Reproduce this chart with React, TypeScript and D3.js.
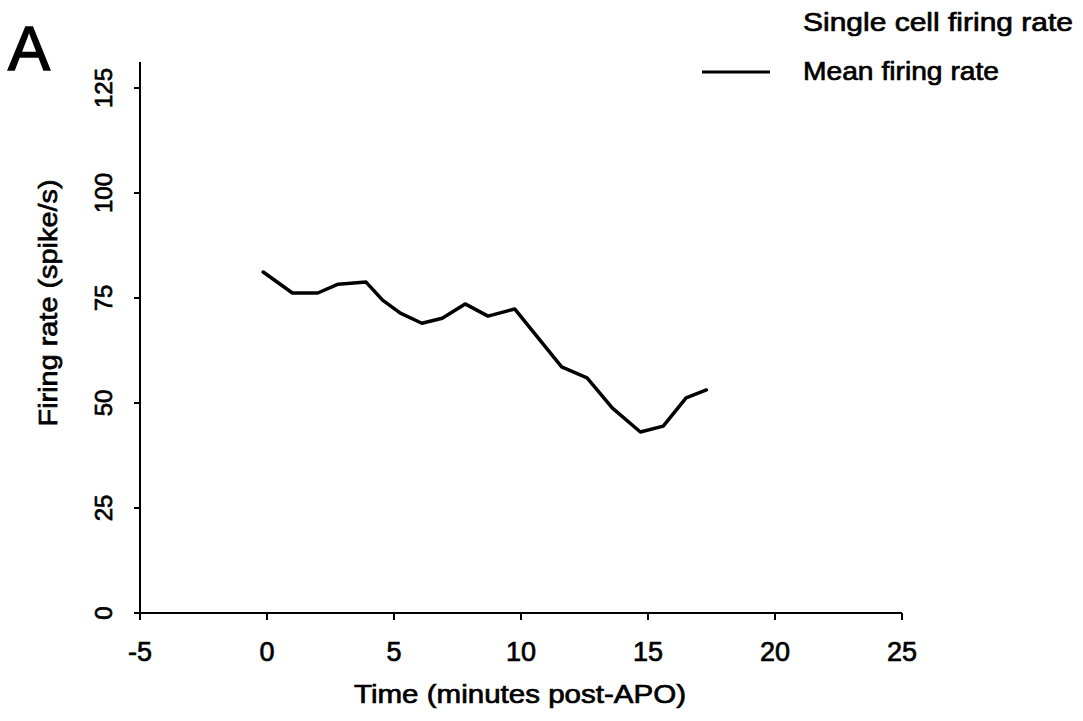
import React from "react";
import * as d3 from "d3";

const times = [-0.15, 1.0, 2.0, 2.8, 3.9, 4.55, 5.25, 6.1, 6.9, 7.8, 8.7, 9.75, 11.6, 12.6, 13.6, 14.7, 15.6, 16.5, 17.3];
const meanRate = [81.2, 76.2, 76.2, 78.3, 78.8, 74.5, 71.4, 69.0, 70.2, 73.6, 70.7, 72.4, 58.6, 56.0, 48.8, 43.1, 44.5, 51.2, 53.1];
const xTicks = [-5, 0, 5, 10, 15, 20, 25];
const yTicks = [0, 25, 50, 75, 100, 125];
const legendLabels = ["Single cell firing rate", "Mean firing rate"];

const W = 1083;
const H = 721;
const FONT = "'Liberation Sans', Arial, Helvetica, sans-serif";
const TS = { stroke: "#000", strokeWidth: 0.7 };

export default function App() {
  const x = d3.scaleLinear().domain([-5, 25]).range([140, 902]);
  const y = d3.scaleLinear().domain([0, 131.2]).range([613, 62]);
  const pts = times.map((t, i) => [t, meanRate[i]] as [number, number]);
  const line = d3
    .line<[number, number]>()
    .x((d) => x(d[0]))
    .y((d) => y(d[1]));

  const x0 = x(-5);
  const y0 = y(0);

  return (
    <svg
      width={W}
      height={H}
      style={{ position: "absolute", left: 0, top: 0, background: "#fff" }}
      fontFamily={FONT}
    >
      <rect x={0} y={0} width={W} height={H} fill="#fff" />
      {/* panel letter */}
      <text x={8} y={70} fontSize={63} fill="#000" stroke="#000" strokeWidth={1.5}>A</text>

      {/* axes */}
      <line x1={x0} x2={x0} y1={y(131.2)} y2={y0} stroke="#000" strokeWidth={2} />
      <line x1={x0} x2={x(25)} y1={y0} y2={y0} stroke="#000" strokeWidth={2} />

      {yTicks.map((v) => (
        <g key={"yt" + v}>
          <line x1={x0 - 6} x2={x0} y1={y(v)} y2={y(v)} stroke="#000" strokeWidth={2} />
          <text
            transform={`translate(112,${y(v)}) rotate(-90)`}
            textAnchor="middle"
            fontSize={24}
            fill="#000"
            {...TS}
          >
            {v}
          </text>
        </g>
      ))}

      {xTicks.map((v) => (
        <g key={"xt" + v}>
          <line x1={x(v)} x2={x(v)} y1={y0} y2={y0 + 7} stroke="#000" strokeWidth={2} />
          <text x={x(v)} y={661} textAnchor="middle" fontSize={27} fill="#000" {...TS}>
            {v}
          </text>
        </g>
      ))}

      {/* axis titles */}
      <text
        x={520}
        y={703}
        textAnchor="middle"
        fontSize={26}
        textLength={332}
        lengthAdjust="spacingAndGlyphs"
        fill="#000"
        {...TS}
      >
        Time (minutes post-APO)
      </text>
      <text
        transform="translate(57,303) rotate(-90)"
        textAnchor="middle"
        fontSize={26}
        textLength={247}
        lengthAdjust="spacingAndGlyphs"
        fill="#000"
        {...TS}
      >
        Firing rate (spike/s)
      </text>

      {/* mean line */}
      <path d={line(pts) || ""} fill="none" stroke="#000" strokeWidth={3.5} strokeLinejoin="round" strokeLinecap="round" />

      {/* legend */}
      <text x={803} y={31} fontSize={26} textLength={270} lengthAdjust="spacingAndGlyphs" fill="#000" {...TS}>
        {legendLabels[0]}
      </text>
      <line x1={702} x2={770} y1={72} y2={72} stroke="#000" strokeWidth={3} />
      <text x={803} y={80} fontSize={26} textLength={196} lengthAdjust="spacingAndGlyphs" fill="#000" {...TS}>
        {legendLabels[1]}
      </text>
    </svg>
  );
}
